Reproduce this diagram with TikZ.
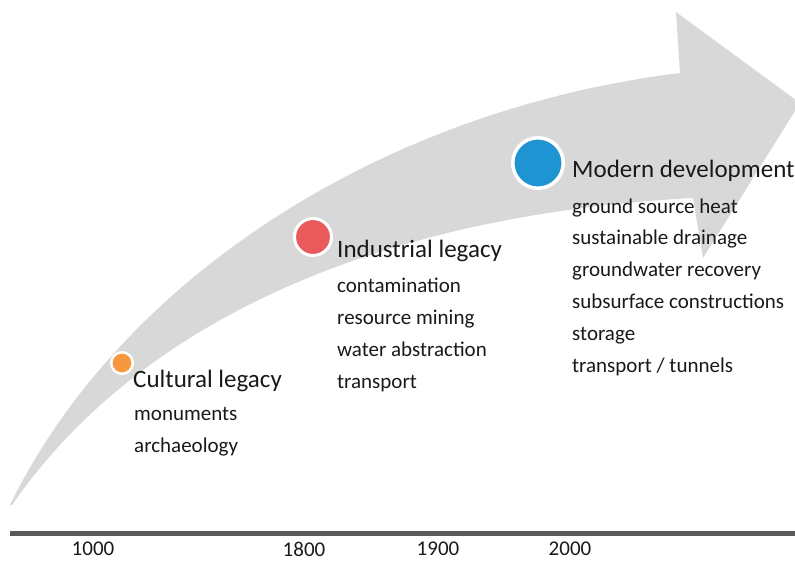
\documentclass[tikz,border=0pt]{standalone}
\usepackage{fontspec}
\setmainfont{Carlito}
\usetikzlibrary{shadows}
\definecolor{arrowgray}{RGB}{216,216,216}
\definecolor{axisgray}{RGB}{90,90,90}
\definecolor{dotorange}{RGB}{247,152,62}
\definecolor{dotred}{RGB}{233,90,92}
\definecolor{dotblue}{RGB}{30,148,210}
\tikzset{
	dot/.style={circle, draw=white, inner sep=0pt, drop shadow={opacity=0.25, shadow xshift=0.6pt, shadow yshift=-1pt}},
	title/.style={anchor=base west, inner sep=0pt, text=black!90, font=\fontsize{25}{30}\selectfont},
	item/.style={anchor=base west, inner sep=0pt, text=black!90, font=\fontsize{21}{25}\selectfont},
	year/.style={inner sep=0pt, text=black!90, font=\fontsize{21}{25}\selectfont}
}

\begin{document}
\begin{tikzpicture}[x=1pt, y=-1pt]
		%%%%% START %%%%%
		\useasboundingbox (0, 0) rectangle (795, 560);
		
		\fill[arrowgray] (10, 505) .. controls (120, 280) and (380, 110) .. (680, 73) -- (676, 12) -- (800, 103) -- (703, 258) -- (693, 198) .. controls (380, 215) and (140, 320) .. (12, 505) -- cycle;
		
		\draw[line width=5pt, color=axisgray] (10, 533) -- (795, 533);
		
		\node[dot, line width=2.5pt, fill=dotorange, minimum size=21.5pt] (cultdot) at (122, 363) {};
		\node[dot, line width=3pt, fill=dotred, minimum size=37pt] (inddot) at (313, 237) {};
		\node[dot, line width=3.5pt, fill=dotblue, minimum size=50.5pt] (moddot) at (538, 163) {};
		
		\node[title] (cult) at (133, 387) {Cultural legacy};
		\foreach \t [count=\i from 0] in {monuments, archaeology}
			\node[item] (cult-\i) at (134, {420+32*\i}) {\t};
		
		\node[title] (ind) at (337, 257) {Industrial legacy};
		\foreach \t [count=\i from 0] in {contamination, resource mining, water abstraction, transport}
			\node[item] (ind-\i) at (337, {292+32*\i}) {\t};
		
		\node[title] (mod) at (572, 177) {Modern development};
		\foreach \t [count=\i from 0] in {ground source heat, sustainable drainage, groundwater recovery, subsurface constructions, storage, transport / tunnels}
			\node[item] (mod-\i) at (572, {213+31.8*\i}) {\t};
		
		\node[year] (y1000) at (93, 549) {1000};
		\node[year] (y1800) at (304, 549) {1800};
		\node[year] (y1900) at (438, 549) {1900};
		\node[year] (y2000) at (570, 549) {2000};
		
		%%%%% END %%%%%
	\end{tikzpicture}
\end{document}
